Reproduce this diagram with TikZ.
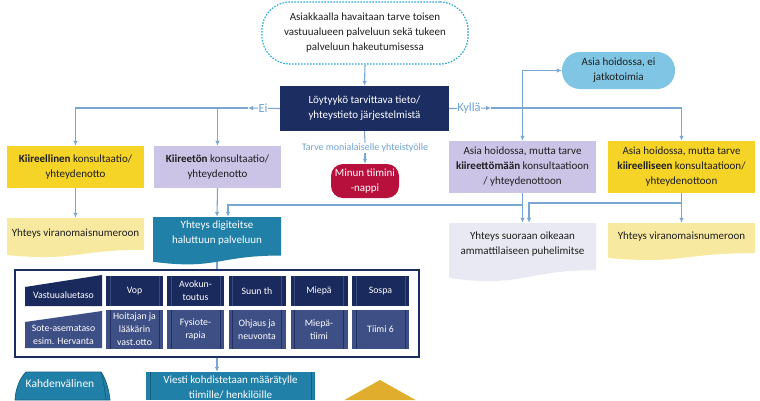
\documentclass[tikz,border=0pt]{standalone}
\usepackage{fontspec}
\setmainfont{Carlito}
\usetikzlibrary{arrows.meta,backgrounds,calc}
\definecolor{navy}{HTML}{1B2D61}
\definecolor{navyA}{HTML}{1B2A5C}
\definecolor{navyAl}{HTML}{3A4B80}
\definecolor{slate}{HTML}{3D4F85}
\definecolor{slatel}{HTML}{222F60}
\definecolor{teal}{HTML}{2180A8}
\definecolor{teald}{HTML}{145F80}
\definecolor{topblue}{HTML}{2EAAD6}
\definecolor{skyb}{HTML}{80C6E4}
\definecolor{yel}{HTML}{F5D327}
\definecolor{paleyel}{HTML}{F8E9A1}
\definecolor{lav}{HTML}{CBC4E6}
\definecolor{greylav}{HTML}{E9E9F3}
\definecolor{crim}{HTML}{B8103C}
\definecolor{gold}{HTML}{E0AE2C}
\definecolor{conn}{HTML}{79A6D2}
\definecolor{lbl}{HTML}{6FA3D6}
\definecolor{txt}{HTML}{1E1E1E}
\newcommand\mainf{\fontsize{11}{15}\selectfont}
\newcommand\cellf{\fontsize{9.8}{13}\selectfont}
\newcommand\tarvef{\fontsize{10}{11}\selectfont}
\newcommand\eilblf{\fontsize{12.5}{14}\selectfont}
\tikzset{
  box/.style={align=center, inner sep=1pt, font=\mainf, text=txt},
  cn/.style={draw=conn, line width=1.1pt},
  arr/.style={cn, -{Latex[length=5pt,width=4.5pt]}},
  lblnode/.style={text=lbl, font=\eilblf, fill=white, inner sep=0.5pt},
  predef/.style={path picture={
     \draw[#1, line width=0.8pt] ([xshift=4pt]path picture bounding box.north west) -- ([xshift=4pt]path picture bounding box.south west);
     \draw[#1, line width=0.8pt] ([xshift=-4pt]path picture bounding box.north east) -- ([xshift=-4pt]path picture bounding box.south east);}},
  cellA/.style={fill=navyA, predef=navyAl, text=white, font=\cellf, align=center, inner sep=0pt, minimum width=57pt, minimum height=30pt},
  cellB/.style={fill=slate, predef=slatel, text=white, font=\cellf, align=center, inner sep=0pt, minimum width=57pt, minimum height=39pt},
}
\begin{document}
\begin{tikzpicture}[x=1pt,y=-1pt]
\useasboundingbox (0,0) rectangle (760,400);

% top start
\node[box, fill=white, draw=topblue, dash pattern=on 1.6pt off 1.4pt, line width=1.2pt, rounded corners=28pt, minimum width=206pt, minimum height=62pt] (top) at (365,33) {Asiakkaalla havaitaan tarve toisen\\vastuualueen palveluun sekä tukeen\\palveluun hakeutumisessa};

% question
\node[box, fill=navy, text=white, minimum width=169pt, minimum height=45pt] (q) at (364.5,108.5) {Löytyykö tarvittava tieto/\\yhteystieto järjestelmistä};

% left branch
\node[box, fill=yel, minimum width=137pt, minimum height=42pt] (kiir) at (75.5,167) {\textbf{Kiireellinen} konsultaatio/\\yhteydenotto};
\node[box, fill=lav, minimum width=127pt, minimum height=42pt] (kton) at (217.5,167) {\textbf{Kiireetön} konsultaatio/\\yhteydenotto};

% right branch
\node[box, fill=skyb, rounded corners=18pt, minimum width=113pt, minimum height=37pt] (jatko) at (618.5,70.5) {Asia hoidossa, ei\\jatkotoimia};
\node[box, fill=lav, minimum width=147pt, minimum height=52pt] (ahk1) at (522.5,167) {Asia hoidossa, mutta tarve\\\textbf{kiireettömään} konsultaatioon\\/ yhteydenottoon};
\node[box, fill=yel, minimum width=147pt, minimum height=52pt] (ahk2) at (681.5,167) {Asia hoidossa, mutta tarve\\\textbf{kiireelliseen} konsultaatioon/\\yhteydenottoon};

% middle
\node[text=lbl, font=\tarvef, inner sep=1pt] (tarve) at (365,148) {Tarve monialaiselle yhteistyölle};
\node[box, fill=crim, text=white, rounded corners=12pt, minimum width=68pt, minimum height=34pt] (minun) at (365,181) {Minun tiimini\\-nappi};

% documents (text nodes; shapes on background)
\node[box, minimum width=137pt, minimum height=32pt] (doc1) at (75.5,234) {Yhteys viranomaisnumeroon};
\node[box, text=white, minimum width=128pt, minimum height=33pt] (doc2) at (217,233.5) {Yhteys digiteitse\\haluttuun palveluun};
\node[box, minimum width=147pt, minimum height=42pt] (doc3) at (522.5,244) {Yhteys suoraan oikeaan\\ammattilaiseen puhelimitse};
\node[box, minimum width=147pt, minimum height=28pt] (doc4) at (681.5,237) {Yhteys viranomaisnumeroon};

% frame with matrix
\node[draw=navy, line width=1.5pt, fill=white, minimum width=404pt, minimum height=87pt, inner sep=0pt] (frame) at (217,313.5) {};
\fill[navyA] (25,287) -- (102,275) -- (102,306) -- (25,306) -- cycle;
\fill[slate] (25,322) -- (102,311) -- (102,348) -- (25,348) -- cycle;
\node[text=white, font=\cellf, inner sep=0pt] (vt) at (63.5,295) {Vastuualuetaso};
\node[text=white, font=\cellf, align=center, inner sep=0pt] (sa) at (63.5,335) {Sote-asemataso\\esim. Hervanta};

\node[cellA] (a1) at (134.5,291) {Vop};
\node[cellA] (a2) at (195.5,291) {Avokun-\\toutus};
\node[cellA] (a3) at (257,291) {Suun th};
\node[cellA] (a4) at (319,291) {Miepä};
\node[cellA] (a5) at (380.5,291) {Sospa};
\node[cellB] (b1) at (134.5,329.5) {Hoitajan ja\\lääkärin\\vast.otto};
\node[cellB] (b2) at (195.5,329.5) {Fysiote-\\rapia};
\node[cellB] (b3) at (257,329.5) {Ohjaus ja\\neuvonta};
\node[cellB] (b4) at (319,329.5) {Miepä-\\tiimi};
\node[cellB] (b5) at (380.5,329.5) {Tiimi 6};

% bottom, cut by the page
\node[box, text=white, minimum width=169pt, minimum height=30pt] (viesti) at (230.5,387) {Viesti kohdistetaan määrätylle\\tiimille/ henkilöille};
\node[box, text=white, inner sep=0pt, font=\fontsize{11.5}{14}\selectfont] (kahd) at (60,384) {Kahdenvälinen};

\begin{scope}[on background layer]
  \fill[white] (0,0) rectangle (760,400);
  \draw[cn] (doc2.south) -- (frame.north);
  \fill[paleyel] (7,218) -- (144,218) -- (144,249.8) .. controls (75.5,249.8) and (75.5,261.8) .. (7,255) -- cycle;
  \fill[teal] (153,217) -- (281,217) -- (281,255.5) .. controls (217,255.5) and (217,270.1) .. (153,261.8) -- cycle;
  \fill[greylav] (449,223) -- (596,223) -- (596,270.2) .. controls (522.5,270.2) and (522.5,288.2) .. (449,278) -- cycle;
  \fill[paleyel] (608,223) -- (755,223) -- (755,253.1) .. controls (681.5,253.1) and (681.5,264.5) .. (608,258) -- cycle;
  % Viesti box
  \fill[teal] (146,372) rectangle (315,400);
  \draw[teald, line width=0.8pt] (150,372) -- (150,400) (311,372) -- (311,400);
  % Kahdenvalinen shape
  \filldraw[fill=teal, draw=teald, line width=0.7pt] (26,372) -- (101,372) .. controls (106,379) and (109,390) .. (110,400) -- (15,400) .. controls (15.5,390) and (19,379) .. (26,372) -- cycle;
  \draw[teald, line width=0.7pt] (101,372) .. controls (103,379) and (105,390) .. (106,400);
  % diamond (cut by the page)
  \fill[gold] (380,380) -- (415.6,400) -- (344.4,400) -- cycle;
\end{scope}

% connectors
\draw[arr] (top.south) -- (q.north);

\coordinate (eiTip) at (248,108);
\draw[arr] (q.west) -- (eiTip);
\draw[arr] (eiTip) -| (kiir.north);
\draw[arr] (eiTip -| kton.north) -- (kton.north);
\node[lblnode] (ei) at (263,108) {Ei};

\coordinate (kyTip) at (491,108);
\draw[arr] (q.east) -- (kyTip);
\draw[arr] (kyTip) -| (ahk2.north);
\draw[arr] (kyTip -| ahk1.north) |- (jatko.west);
\draw[arr] (kyTip -| ahk1.north) -- (ahk1.north);
\node[lblnode] (kylla) at (469,108) {Kyllä};

\draw[cn] (q.south) -- (tarve.north);
\draw[arr] (tarve.south) -- (minun.north);

\draw[arr] (kiir.south) -- (doc1.north);
\draw[arr] (kton.south) -- (doc2.north);

\coordinate (jL) at (228,205);
\draw[arr] (ahk1.south) -- (doc3.north);
\draw[arr] (ahk1.south |- jL) -- (jL) -- (jL |- doc2.north);

\coordinate (jR) at (529,203);
\draw[arr] (ahk2.south) -- (doc4.north);
\draw[arr] (ahk2.south |- jR) -- (jR) -- (jR |- doc3.north);

\draw[arr] (frame.south) -- (frame.south |- viesti.north);
\end{tikzpicture}
\end{document}
